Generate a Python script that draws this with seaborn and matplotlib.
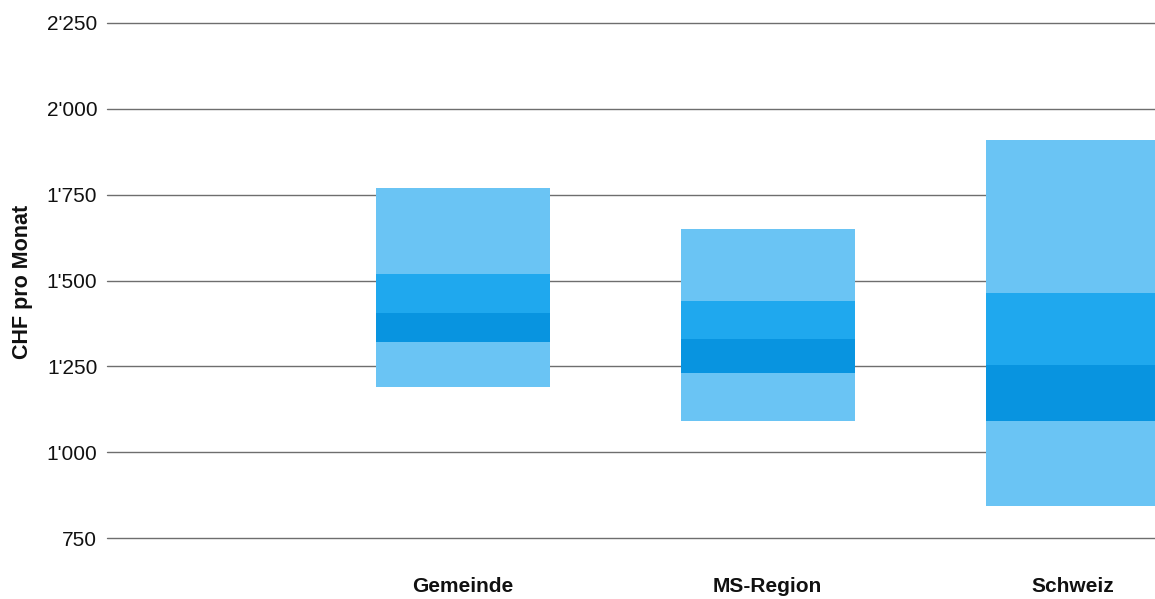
import numpy as np
import pandas as pd
import matplotlib
matplotlib.use("Agg")
import matplotlib.pyplot as plt
from matplotlib.ticker import FuncFormatter
import seaborn as sns

# Monthly rent distribution per area (CHF)
categories = ["Gemeinde", "MS-Region", "Schweiz"]
p10 = [1190, 1090, 845]
p25 = [1320, 1230, 1090]
median = [1405, 1330, 1255]
p75 = [1520, 1440, 1465]
p90 = [1770, 1650, 1910]

y_ticks = [750, 1000, 1250, 1500, 1750, 2000, 2250]

sns.set_theme(style="white")
plt.rcParams["font.family"] = ["Liberation Sans", "DejaVu Sans"]

fig = plt.figure(figsize=(11.55, 5.99), dpi=100)
ax = fig.add_axes([107 / 1155, 60.7 / 599, 1 - 107 / 1155, (538.3 - 22.7) / 599])

light = "#6ac4f4"
mid = "#1fa8ee"
dark = "#0894e0"

bands = [
    (p10, p90, light),
    (median, p75, mid),
    (p25, median, dark),
]
for lo, hi, col in bands:
    lo = np.array(lo, dtype=float)
    hi = np.array(hi, dtype=float)
    df = pd.DataFrame({"cat": categories, "h": hi - lo})
    sns.barplot(data=df, x="cat", y="h", bottom=lo, color=col, width=0.57,
                saturation=1, linewidth=0, ax=ax, zorder=3)

ax.set_ylim(750, 2250)
ax.set_yticks(y_ticks)
ax.yaxis.set_major_formatter(FuncFormatter(lambda v, p: f"{int(v):,}".replace(",", "'")))
ax.set_xlim(-1.166, 2.27)

for v in y_ticks:
    ax.axhline(v, color="#6e6e6e", linewidth=1.0, zorder=0, clip_on=False)
for s in ax.spines.values():
    s.set_visible(False)

ax.tick_params(axis="y", length=0, pad=7, labelsize=15, labelcolor="#111111")
ax.tick_params(axis="x", length=0, pad=28, labelsize=15, labelcolor="#111111")
for t in ax.get_xticklabels():
    t.set_fontweight("bold")

ax.set_xlabel("")
ax.set_ylabel("")
fig.text(23 / 1155, 1 - 282 / 599, "CHF pro Monat", rotation=90, ha="center", va="center",
         fontsize=15.5, fontweight="bold", color="#111111")

fig.savefig("out.png", dpi=100, facecolor="white")
